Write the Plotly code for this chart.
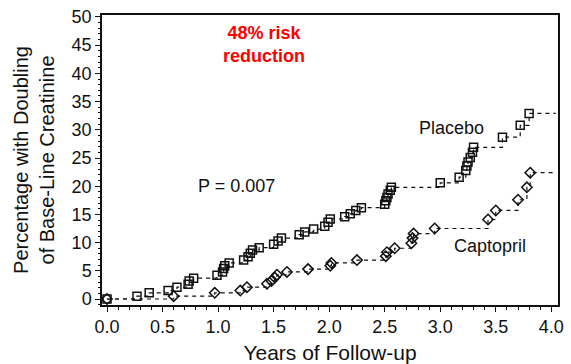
import plotly.graph_objects as go

# Placebo (squares): event times (years) and cumulative percentage
placebo_years = [0.0, 0.27, 0.38, 0.55, 0.63, 0.73, 0.74, 0.78, 0.99, 1.04, 1.05, 1.06,
                 1.10, 1.23, 1.27, 1.29, 1.31, 1.37, 1.50, 1.54, 1.57, 1.73, 1.78, 1.86,
                 1.96, 1.99, 2.01, 2.14, 2.19, 2.24, 2.29, 2.50, 2.51, 2.52, 2.53, 2.55,
                 2.56, 3.00, 3.17, 3.23, 3.24, 3.25, 3.27, 3.29, 3.30, 3.56, 3.72, 3.80]
placebo_pct = [0.0, 0.5, 1.1, 1.5, 2.1, 2.6, 3.2, 3.7, 4.2, 4.8, 5.4, 5.9,
               6.4, 6.9, 7.5, 8.1, 8.7, 9.1, 9.7, 10.3, 10.8, 11.4, 11.9, 12.4,
               12.9, 13.6, 14.2, 14.6, 15.1, 15.7, 16.2, 16.8, 17.4, 18.0, 18.6, 19.3,
               19.8, 20.6, 21.6, 22.8, 23.6, 24.3, 25.1, 26.0, 26.9, 28.7, 30.8, 32.9]

# Captopril (diamonds)
captopril_years = [0.0, 0.60, 0.97, 1.20, 1.26, 1.44, 1.48, 1.51, 1.53, 1.62, 1.81, 2.01,
                   2.02, 2.25, 2.51, 2.52, 2.59, 2.74, 2.75, 2.76, 2.95, 3.43, 3.50, 3.70,
                   3.78, 3.81]
captopril_pct = [0.0, 0.5, 1.1, 1.5, 2.1, 2.7, 3.2, 3.8, 4.3, 4.8, 5.3, 5.9,
                 6.4, 6.9, 7.6, 8.3, 9.0, 9.9, 10.8, 11.6, 12.5, 14.1, 15.7, 17.6,
                 19.8, 22.4]

follow_up_end = 4.04
x_ticks = [0.0, 0.5, 1.0, 1.5, 2.0, 2.5, 3.0, 3.5, 4.0]
y_ticks = [0, 5, 10, 15, 20, 25, 30, 35, 40, 45, 50]

FONT = "Liberation Sans, Arial, sans-serif"

fig = go.Figure()
for xs, ys, sym in [(placebo_years, placebo_pct, "square-open"),
                    (captopril_years, captopril_pct, "diamond-open")]:
    fig.add_trace(go.Scatter(
        x=xs + [follow_up_end], y=ys + [ys[-1]], mode="lines",
        line=dict(color="#111", width=1.2, dash="4px,4px", shape="hv"),
        hoverinfo="skip", showlegend=False))
    fig.add_trace(go.Scatter(
        x=xs, y=ys, mode="markers",
        marker=dict(symbol=sym, size=8, color="#111", line=dict(width=1.5, color="#111")),
        showlegend=False))

annos = [
    dict(x=1.41, y=45.2, text="<b>48% risk<br>reduction</b>", font=dict(size=18, color="#ff0000")),
    dict(x=3.10, y=30.4, text="Placebo", font=dict(size=18, color="#111")),
    dict(x=1.17, y=20.0, text="P = 0.007", font=dict(size=18, color="#111")),
    dict(x=3.45, y=9.4, text="Captopril", font=dict(size=18, color="#111")),
]
for a in annos:
    fig.add_annotation(xref="x", yref="y", showarrow=False, **a)

fig.update_layout(
    width=571, height=364,
    margin=dict(l=102, r=13, t=15, b=59),
    paper_bgcolor="white", plot_bgcolor="white",
    font=dict(family=FONT, size=18, color="#111"),
    xaxis=dict(
        range=[-0.045, 4.06], tickvals=x_ticks, tickformat=".1f", automargin=False,
        showline=True, linecolor="#111", linewidth=1.5, mirror=True,
        ticks="outside", ticklen=5, tickcolor="#111", showgrid=False, zeroline=False,
        minor=dict(dtick=0.1, tick0=0, ticks="outside", ticklen=3, tickcolor="#111"),
        title=dict(text="Years of Follow-up", font=dict(size=21), standoff=12),
    ),
    yaxis=dict(
        range=[-1.06, 50.35], tickvals=y_ticks, automargin=False,
        showline=True, linecolor="#111", linewidth=1.5, mirror=True,
        ticks="outside", ticklen=5, tickcolor="#111", showgrid=False, zeroline=False,
        minor=dict(dtick=1, tick0=0, ticks="outside", ticklen=2, tickcolor="#111"),
        title=dict(text="Percentage with Doubling<br>of Base-Line Creatinine",
                   font=dict(size=20), standoff=12),
    ),
)

fig.write_html("out.html")
